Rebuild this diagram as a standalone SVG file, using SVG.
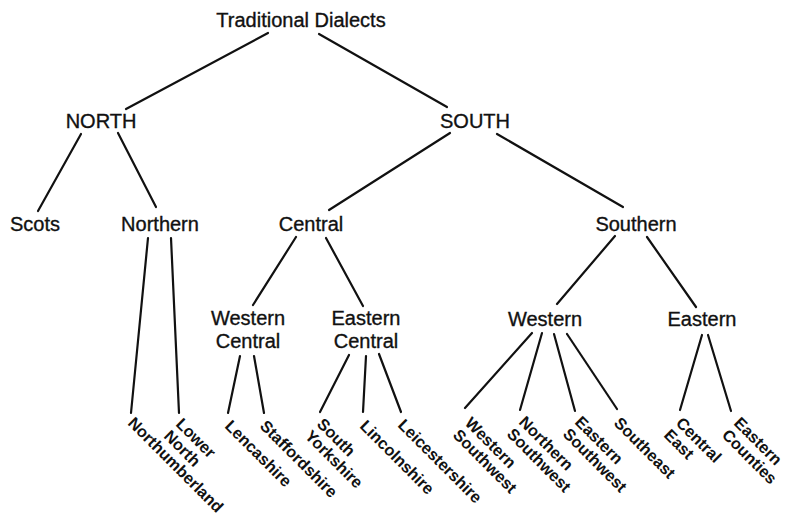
<svg xmlns="http://www.w3.org/2000/svg" width="788" height="518" viewBox="0 0 788 518">
<style>
.n{font-family:"Liberation Sans",Arial,sans-serif;font-size:20px;fill:#111;stroke:#111;stroke-width:0.35;text-anchor:middle}
.r{font-family:"Liberation Sans",Arial,sans-serif;font-size:16.3px;font-weight:bold;fill:#111}
.e line{stroke:#111;stroke-width:2.2;stroke-linecap:round}
</style>
<rect width="788" height="518" fill="#fff"/>
<g class="e" id="connectors">
<line x1="268" y1="33" x2="126" y2="109"/>
<line x1="319" y1="34" x2="447" y2="107"/>
<line x1="81" y1="134" x2="38" y2="211"/>
<line x1="118" y1="133" x2="156" y2="207"/>
<line x1="450" y1="133" x2="329" y2="210"/>
<line x1="497" y1="134" x2="623" y2="207"/>
<line x1="615" y1="236" x2="557" y2="304"/>
<line x1="647" y1="237" x2="696" y2="307"/>
<line x1="296" y1="237" x2="253" y2="305"/>
<line x1="326" y1="238" x2="363" y2="306"/>
<line x1="148" y1="238" x2="131" y2="413"/>
<line x1="171" y1="238" x2="179" y2="413"/>
<line x1="240" y1="356" x2="228" y2="413"/>
<line x1="254" y1="356" x2="264" y2="413"/>
<line x1="349" y1="355" x2="320" y2="412"/>
<line x1="366" y1="356" x2="363" y2="412"/>
<line x1="379" y1="354" x2="401" y2="412"/>
<line x1="532" y1="333" x2="465" y2="408"/>
<line x1="542" y1="333" x2="520" y2="410"/>
<line x1="554" y1="334" x2="575" y2="411"/>
<line x1="567" y1="334" x2="617" y2="409"/>
<line x1="702" y1="335" x2="680" y2="410"/>
<line x1="708" y1="335" x2="731" y2="411"/>
</g>
<g id="traditional"><text class="n" x="301" y="27">Traditional Dialects</text></g>
<g id="north"><text class="n" x="101" y="128">NORTH</text></g>
<g id="south"><text class="n" x="475" y="128">SOUTH</text></g>
<g id="scots"><text class="n" x="35" y="231">Scots</text></g>
<g id="northern"><text class="n" x="160" y="231">Northern</text></g>
<g id="central"><text class="n" x="311" y="231">Central</text></g>
<g id="southern"><text class="n" x="636" y="231">Southern</text></g>
<g id="western-central"><text class="n" x="248" y="325">Western<tspan x="248" y="348">Central</tspan></text></g>
<g id="eastern-central"><text class="n" x="366" y="325">Eastern<tspan x="366" y="348">Central</tspan></text></g>
<g id="western"><text class="n" x="545" y="326">Western</text></g>
<g id="eastern"><text class="n" x="702" y="326">Eastern</text></g>
<g id="northumberland"><text class="r" transform="translate(127,424) rotate(45)">Northumberland</text></g>
<g id="lower-north"><text class="r" transform="translate(175,425) rotate(45)">Lower<tspan x="0" dy="17">North</tspan></text></g>
<g id="lencashire"><text class="r" transform="translate(224,427) rotate(45)">Lencashire</text></g>
<g id="staffordshire"><text class="r" transform="translate(259,427) rotate(45)">Staffordshire</text></g>
<g id="south-yorkshire"><text class="r" transform="translate(316,425) rotate(45)">South<tspan x="0" dy="17">Yorkshire</tspan></text></g>
<g id="lincolnshire"><text class="r" transform="translate(359,427) rotate(45)">Lincolnshire</text></g>
<g id="leicestershire"><text class="r" transform="translate(397,426) rotate(45)">Leicestershire</text></g>
<g id="western-southwest"><text class="r" transform="translate(464,424) rotate(45)">Western<tspan x="0" dy="17">Southwest</tspan></text></g>
<g id="northern-southwest"><text class="r" transform="translate(518,423) rotate(45)">Northern<tspan x="0" dy="17">Southwest</tspan></text></g>
<g id="eastern-southwest"><text class="r" transform="translate(574,423) rotate(45)">Eastern<tspan x="0" dy="17">Southwest</tspan></text></g>
<g id="southeast"><text class="r" transform="translate(613,424) rotate(45)">Southeast</text></g>
<g id="central-east"><text class="r" transform="translate(675,424) rotate(45)">Central<tspan x="0" dy="17">East</tspan></text></g>
<g id="eastern-counties"><text class="r" transform="translate(733,424) rotate(45)">Eastern<tspan x="0" dy="17">Counties</tspan></text></g>
</svg>
